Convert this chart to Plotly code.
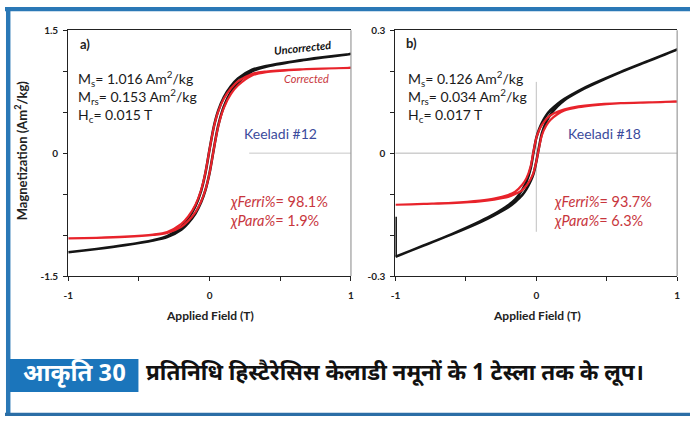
import plotly.graph_objects as go

W, H = 693, 426

# ---------------- data ----------------
# Panel a) Keeladi #12
field_a = [-1, -0.8, -0.6, -0.4, -0.3, -0.2, -0.15, -0.1, -0.06, -0.03, 0,
           0.03, 0.06, 0.1, 0.15, 0.2, 0.3, 0.4, 0.6, 0.8, 1]
a_unc_desc = [-1.21, -1.169, -1.122, -1.062, -1.013, -0.898, -0.796, -0.647, -0.46, -0.245, 0.05,
              0.325, 0.515, 0.681, 0.815, 0.91, 1.018, 1.064, 1.122, 1.169, 1.21]
a_unc_asc = [-1.21, -1.17, -1.124, -1.067, -1.025, -0.934, -0.85, -0.737, -0.60, -0.455, -0.24,
             0.055, 0.33, 0.567, 0.746, 0.859, 0.999, 1.056, 1.119, 1.168, 1.21]
a_cor_desc = [-1.04, -1.033, -1.02, -0.994, -0.962, -0.864, -0.77, -0.63, -0.45, -0.24, 0.05,
              0.32, 0.505, 0.664, 0.789, 0.876, 0.967, 0.996, 1.02, 1.033, 1.04]
a_cor_asc = [-1.04, -1.034, -1.022, -0.999, -0.974, -0.90, -0.825, -0.72, -0.59, -0.45, -0.24,
             0.05, 0.32, 0.55, 0.72, 0.825, 0.948, 0.988, 1.017, 1.032, 1.04]

# Panel b) Keeladi #18
field_b = [-1, -0.8, -0.6, -0.4, -0.3, -0.2, -0.15, -0.1, -0.07, -0.04, -0.02, 0,
           0.02, 0.04, 0.07, 0.1, 0.15, 0.2, 0.3, 0.4, 0.6, 0.8, 1]
b_unc_desc = [-0.253, -0.2256, -0.1977, -0.1668, -0.1491, -0.1274, -0.113, -0.0897, -0.0699, -0.0371, 0.0015, 0.037,
              0.0585, 0.0741, 0.0919, 0.1047, 0.12, 0.1324, 0.1521, 0.1688, 0.1982, 0.2256, 0.253]
b_unc_asc = [-0.253, -0.2256, -0.1982, -0.1688, -0.1516, -0.1324, -0.119, -0.1027, -0.0879, -0.0681, -0.0505, -0.021,
             0.0165, 0.0491, 0.0759, 0.0937, 0.114, 0.1294, 0.1501, 0.1673, 0.198, 0.2254, 0.253]
b_cor_desc = [-0.126, -0.124, -0.1215, -0.116, -0.111, -0.102, -0.094, -0.077, -0.061, -0.032, 0.004, 0.037,
              0.056, 0.069, 0.083, 0.092, 0.101, 0.107, 0.114, 0.118, 0.122, 0.124, 0.126]
b_cor_asc = [-0.126, -0.124, -0.122, -0.118, -0.1135, -0.107, -0.1, -0.09, -0.079, -0.063, -0.048, -0.021,
             0.014, 0.044, 0.067, 0.081, 0.095, 0.104, 0.112, 0.1165, 0.1218, 0.1238, 0.126]
b_start_field = [-0.997, -0.997]
b_start_m = [-0.155, -0.253]

# tick labels
a_yticks = [-1.5, -1, -0.5, 0, 0.5, 1, 1.5]
a_ytext = ["-1.5", "", "", "0", "", "", "1.5"]
b_yticks = [-0.3, -0.2, -0.1, 0, 0.1, 0.2, 0.3]
b_ytext = ["-0.3", "", "", "0", "", "", "0.3"]
xticks = [-1, -0.5, 0, 0.5, 1]
xtext = ["-1", "", "0", "", "1"]

# ---------------- styling ----------------
BLACK = "#151515"
RED = "#e8232b"
BLUE_TXT = "#3b4b9c"
RED_TXT = "#c8363d"
FRAME = "#2a78b6"
FONT = "Lato, 'Open Sans', sans-serif"
HINDI = "'Noto Sans Devanagari', 'Lohit Devanagari', 'Noto Sans', 'DejaVu Sans', sans-serif"


def px(x):
    return x / W


def py(y):
    return 1 - y / H


def loop(field, desc, asc):
    return list(reversed(field)) + list(field), list(reversed(desc)) + list(asc)


fig = go.Figure()

xa, ya = loop(field_a, a_unc_desc, a_unc_asc)
fig.add_trace(go.Scatter(x=xa, y=ya, mode="lines", line=dict(color=BLACK, width=2.6, shape="spline", smoothing=0.8),
                         xaxis="x", yaxis="y", showlegend=False, hoverinfo="skip"))
xa, ya = loop(field_a, a_cor_desc, a_cor_asc)
fig.add_trace(go.Scatter(x=xa, y=ya, mode="lines", line=dict(color=RED, width=2.2, shape="spline", smoothing=0.8),
                         xaxis="x", yaxis="y", showlegend=False, hoverinfo="skip"))

fig.add_trace(go.Scatter(x=b_start_field, y=b_start_m, mode="lines", line=dict(color=BLACK, width=2.2),
                         xaxis="x2", yaxis="y2", showlegend=False, hoverinfo="skip"))
xb, yb = loop(field_b, b_unc_desc, b_unc_asc)
fig.add_trace(go.Scatter(x=xb, y=yb, mode="lines", line=dict(color=BLACK, width=2.6, shape="spline", smoothing=0.8),
                         xaxis="x2", yaxis="y2", showlegend=False, hoverinfo="skip"))
xb, yb = loop(field_b, b_cor_desc, b_cor_asc)
fig.add_trace(go.Scatter(x=xb, y=yb, mode="lines", line=dict(color=RED, width=2.2, shape="spline", smoothing=0.8),
                         xaxis="x2", yaxis="y2", showlegend=False, hoverinfo="skip"))

tickfont = dict(family=FONT, size=10, color="#222", weight="bold")
common_x = dict(range=[-1, 1], tickvals=xticks, ticktext=xtext, ticks="outside", ticklen=4, tickcolor="#222",
                showline=True, linecolor="#222", linewidth=1.2, mirror=True, showgrid=False, zeroline=False,
                tickfont=tickfont, ticklabelstandoff=6, fixedrange=True)
common_y = dict(ticks="outside", ticklen=4, tickcolor="#222", showline=True, linecolor="#222", linewidth=1.2,
                showgrid=False, zeroline=False, tickfont=tickfont, ticklabelstandoff=3, fixedrange=True)

ytop, ybot = py(24), py(277.5)
fig.update_layout(
    width=W, height=H, margin=dict(l=0, r=0, t=0, b=0),
    paper_bgcolor="white", plot_bgcolor="white",
    xaxis=dict(domain=[px(64), px(350)], anchor="y", **common_x),
    yaxis=dict(domain=[ybot, ytop], anchor="x", range=[-1.5, 1.5], tickvals=a_yticks, ticktext=a_ytext, **common_y),
    xaxis2=dict(domain=[px(395), px(680)], anchor="y2", **common_x),
    yaxis2=dict(domain=[ybot, ytop], anchor="x2", range=[-0.3, 0.3], tickvals=b_yticks, ticktext=b_ytext, **common_y),
)

shapes = []
# right borders (gray)
for xr, yr in (("x", "y"), ("x2", "y2")):
    shapes.append(dict(type="line", xref=xr + " domain", yref=yr + " domain", x0=1, x1=1, y0=0, y1=1,
                       line=dict(color="#9a9a9a", width=1.2), layer="above"))
# zero reference lines
shapes.append(dict(type="line", xref="x domain", yref="y", x0=0.64, x1=1, y0=0, y1=0,
                   line=dict(color="#c8c8c8", width=1), layer="below"))
shapes.append(dict(type="line", xref="x2 domain", yref="y2", x0=0, x1=1, y0=0, y1=0,
                   line=dict(color="#b5b5b5", width=1), layer="below"))
shapes.append(dict(type="line", xref="x2", yref="y2 domain", x0=0, x1=0, y0=0.18, y1=0.79,
                   line=dict(color="#c0c0c0", width=1), layer="below"))
# frame
shapes.append(dict(type="rect", xref="paper", yref="paper", x0=0, x1=1, y0=py(4.5), y1=1,
                   fillcolor=FRAME, line=dict(width=0)))
shapes.append(dict(type="rect", xref="paper", yref="paper", x0=px(1), x1=px(5.5), y0=py(421), y1=1,
                   fillcolor=FRAME, line=dict(width=0)))
shapes.append(dict(type="rect", xref="paper", yref="paper", x0=0, x1=1, y0=py(422), y1=py(418.5),
                   fillcolor="#2b6ea6", line=dict(width=0)))
# caption label box
shapes.append(dict(type="rect", xref="paper", yref="paper", x0=px(5), x1=px(135), y0=py(397), y1=py(363),
                   fillcolor="#1b75bb", line=dict(width=0)))
fig.update_layout(shapes=shapes)

ann = []


def text(x, y, t, size, color, xanchor="center", yanchor="middle", angle=0, bg=None, family=FONT, weight="normal",
         align="left", pad=1):
    d = dict(x=px(x), y=py(y), xref="paper", yref="paper", text=t, showarrow=False, xanchor=xanchor,
             yanchor=yanchor, textangle=angle, align=align,
             font=dict(family=family, size=size, color=color, weight=weight), borderpad=pad)
    if bg:
        d["bgcolor"] = bg
    ann.append(d)


# axis titles
text(16, 148, "Magnetization (Am<sup>2</sup>/kg)", 13, "#222", angle=-90, weight="bold")
text(207, 318, "Applied Field (T)", 12, "#222", weight="bold")
text(538, 318, "Applied Field (T)", 12, "#222", weight="bold")

# panel a texts
text(81, 38, "a)", 13, "#222", weight="bold")
text(70, 92, "M<sub>s</sub>= 1.016 Am<sup>2</sup>/kg<br>M<sub>rs</sub>= 0.153 Am<sup>2</sup>/kg<br>H<sub>c</sub>= 0.015 T",
     14, "#1a1a1a", xanchor="left", bg="white", pad=3)
text(301, 42, "<i>Uncorrected</i>", 11, "#111", angle=-6, weight="bold")
text(305, 74, "<i>Corrected</i>", 11, RED_TXT)
text(279, 130, "Keeladi #12", 14, BLUE_TXT, bg="white", pad=4)
text(223, 210, "<i>χFerri%</i>= 98.1%<br><i>χPara%</i>= 1.9%", 14.5, RED_TXT, xanchor="left", bg="white", pad=4)

# panel b texts
text(411, 37, "b)", 13, "#222", weight="bold")
text(406, 92, "M<sub>s</sub>= 0.126 Am<sup>2</sup>/kg<br>M<sub>rs</sub>= 0.034 Am<sup>2</sup>/kg<br>H<sub>c</sub>= 0.017 T",
     14, "#1a1a1a", xanchor="left")
text(606, 130, "Keeladi #18", 14, BLUE_TXT)
text(553, 210, "<i>χFerri%</i>= 93.7%<br><i>χPara%</i>= 6.3%", 14.5, RED_TXT, xanchor="left")

# caption
text(70, 380, "आकृति 30", 24, "white", family=HINDI, weight="bold")
text(141, 379, "प्रतिनिधि हिस्टैरेसिस केलाडी नमूनों के 1 टेस्ला तक के लूप।", 22.5, "#111", xanchor="left",
     family=HINDI, weight="bold")

fig.update_layout(annotations=ann)
fig.write_html("out.html")
